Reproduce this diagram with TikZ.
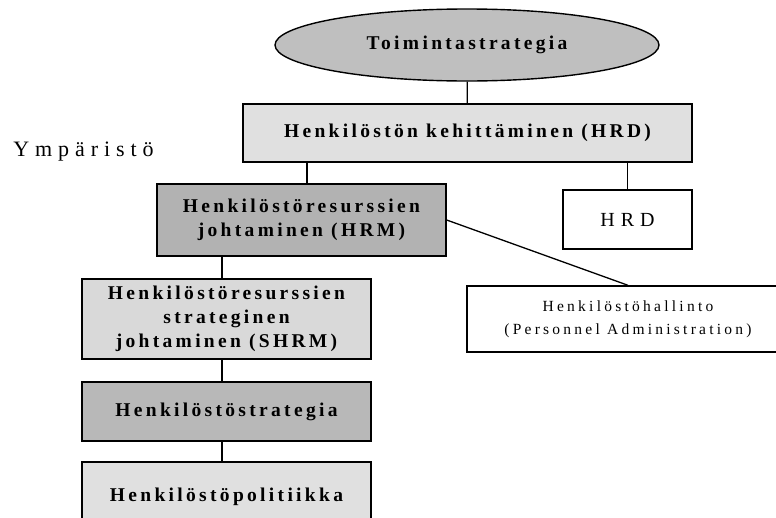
\documentclass[tikz,border=0pt]{standalone}
\usepackage{fontspec}
\setmainfont{Liberation Serif}
\newfontfamily\boxfont[LetterSpace=17]{Liberation Serif}
\newfontfamily\plainfont[LetterSpace=21]{Liberation Serif}
\newfontfamily\widefont[LetterSpace=30]{Liberation Serif}
\newfontfamily\envfont[LetterSpace=27]{Liberation Serif}
\usetikzlibrary{shapes.geometric}

\begin{document}
\begin{tikzpicture}[x=1pt, y=-1pt, line width=1.3pt,
  box/.style={draw, line width=1.4pt, inner sep=0pt, align=center,
              font=\boxfont\bfseries\fontsize{19.5}{24}\selectfont},
  plainbox/.style={box, fill=white, font=\plainfont\fontsize{15.5}{23}\selectfont}]
  \useasboundingbox (0,0) rectangle (776,517);

  \node[box, ellipse, fill=black!25, minimum width=384pt, minimum height=72pt] (strategy) at (467,45)
    {Toimintastrategia};

  \node[box, fill=black!12, minimum width=449pt, minimum height=58pt] (hrd) at (467.5,133)
    {Henkilöstön kehittäminen (HRD)};
  \node[plainbox, font=\widefont\fontsize{20}{24}\selectfont,
        minimum width=129pt, minimum height=59pt] (hrdsmall) at (627.5,219.5) {HRD};

  \node[box, fill=black!30, minimum width=289pt, minimum height=72pt] (hrm) at (301.5,220)
    {Henkilöstöresurssien\\johtaminen (HRM)};
  \node[plainbox, minimum width=322pt, minimum height=66pt] (admin) at (628,319)
    {Henkilöstöhallinto\\(Personnel Administration)};

  \node[box, fill=black!15, minimum width=289pt, minimum height=80pt] (shrm) at (226.5,319)
    {Henkilöstöresurssien\\strateginen\\johtaminen (SHRM)};
  \node[box, fill=black!28, minimum width=289pt, minimum height=59pt] (hrstrategy) at (226.5,411.5)
    {Henkilöstöstrategia};
  \node[box, fill=black!12, minimum width=289pt, minimum height=70pt] (hrpolicy) at (226.5,497)
    {Henkilöstöpolitiikka};

  \node[font=\envfont\fontsize{22}{26}\selectfont] (environment) at (83.5,152) {Ympäristö};

  \draw (strategy) -- (hrd);
  \draw ([xshift=5.5pt]hrm.north) -- ([xshift=5.5pt]hrm.north |- hrd.south);
  \draw (hrdsmall.north) -- (hrdsmall.north |- hrd.south);
  \draw (hrm.east) -- (admin.north);
  \draw ([xshift=-4.5pt]shrm.north) -- ([xshift=-4.5pt]shrm.north |- hrm.south);
  \draw ([xshift=-4.5pt]hrstrategy.north) -- ([xshift=-4.5pt]hrstrategy.north |- shrm.south);
  \draw ([xshift=-4.5pt]hrpolicy.north) -- ([xshift=-4.5pt]hrpolicy.north |- hrstrategy.south);
\end{tikzpicture}
\end{document}
